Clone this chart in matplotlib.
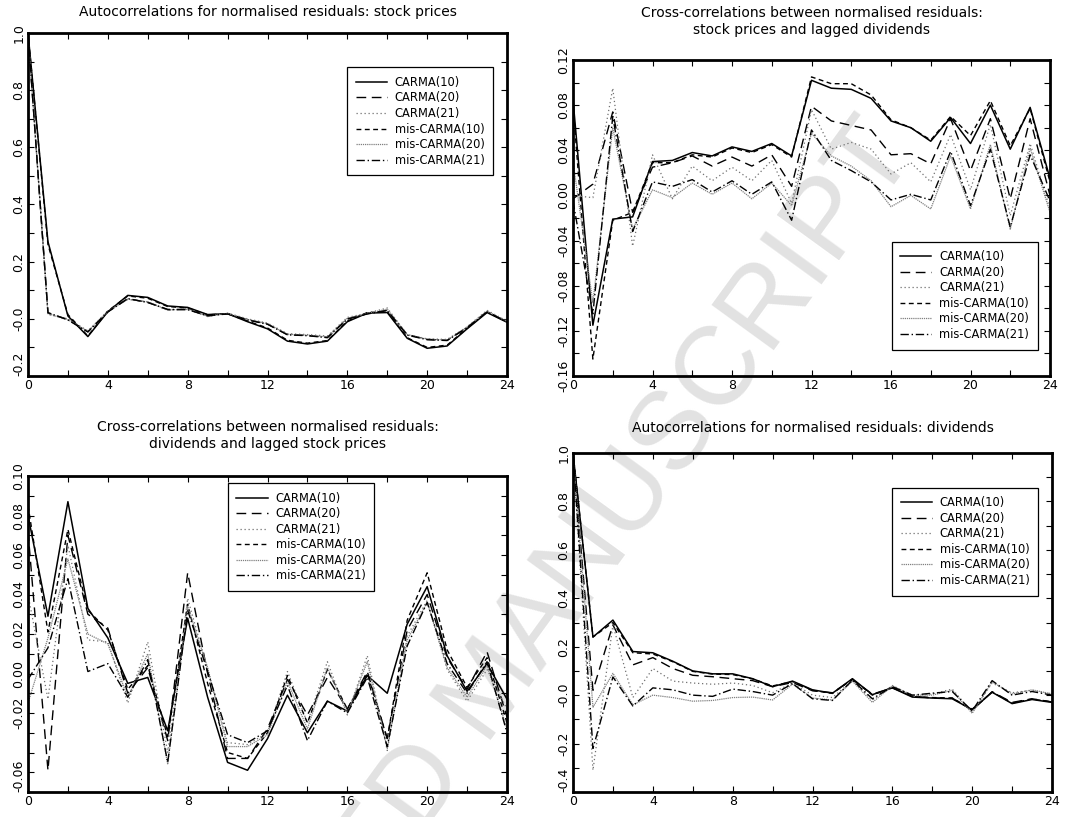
import numpy as np
from matplotlib import pyplot as plt
from matplotlib.ticker import MultipleLocator

plt.rcParams['font.family'] = ['DejaVu Sans']

# lags 0..24
lags = np.arange(25)
model_labels = ['CARMA(10)', 'CARMA(20)', 'CARMA(21)',
                'mis-CARMA(10)', 'mis-CARMA(20)', 'mis-CARMA(21)']

# autocorrelations, stock prices
acf_stock_carma10 = [1.0, 0.27, 0.01, -0.062, 0.025, 0.082, 0.075, 0.045, 0.04, 0.015, 0.018, -0.01, -0.035,
                     -0.078, -0.088, -0.078, -0.01, 0.02, 0.022, -0.068, -0.103, -0.095, -0.035, 0.022, -0.012]
acf_stock_carma20 = [1.0, 0.02, -0.002, -0.045, 0.025, 0.07, 0.058, 0.032, 0.033, 0.01, 0.018, -0.003, -0.018,
                     -0.055, -0.058, -0.065, 0.0, 0.018, 0.03, -0.055, -0.072, -0.075, -0.03, 0.025, -0.01]
acf_stock_carma21 = [1.0, 0.015, 0.0, -0.042, 0.028, 0.068, 0.06, 0.03, 0.035, 0.008, 0.02, 0.0, -0.015,
                     -0.052, -0.055, -0.06, 0.005, 0.02, 0.038, -0.055, -0.07, -0.072, -0.028, 0.03, -0.008]
acf_stock_mis10 = [1.0, 0.26, 0.015, -0.06, 0.027, 0.08, 0.072, 0.043, 0.038, 0.014, 0.018, -0.008, -0.032,
                   -0.075, -0.085, -0.076, -0.008, 0.022, 0.025, -0.066, -0.1, -0.092, -0.033, 0.024, -0.01]
acf_stock_mis20 = [1.0, 0.018, -0.003, -0.044, 0.026, 0.069, 0.059, 0.031, 0.034, 0.009, 0.019, -0.002, -0.017,
                   -0.054, -0.057, -0.063, 0.002, 0.019, 0.034, -0.056, -0.071, -0.074, -0.029, 0.027, -0.009]
acf_stock_mis21 = [1.0, 0.022, -0.004, -0.046, 0.024, 0.071, 0.057, 0.033, 0.032, 0.011, 0.017, -0.004, -0.019,
                   -0.056, -0.059, -0.066, -0.001, 0.017, 0.029, -0.057, -0.073, -0.076, -0.031, 0.024, -0.011]

# cross-correlations, stock prices and lagged dividends
ccf_sd_carma10 = [0.085, -0.115, -0.021, -0.019, 0.030, 0.031, 0.038, 0.035, 0.043, 0.039, 0.046, 0.035, 0.102,
                  0.095, 0.094, 0.086, 0.066, 0.060, 0.048, 0.069, 0.046, 0.080, 0.041, 0.078, 0.015]
ccf_sd_carma20 = [-0.003, 0.010, 0.074, -0.015, 0.025, 0.029, 0.035, 0.026, 0.034, 0.026, 0.036, 0.008, 0.079,
                  0.066, 0.062, 0.058, 0.036, 0.037, 0.028, 0.068, 0.022, 0.068, -0.003, 0.068, 0.0]
ccf_sd_carma21 = [0.0, -0.002, 0.095, -0.045, 0.036, -0.003, 0.026, 0.013, 0.025, 0.013, 0.031, -0.007, 0.076,
                  0.041, 0.047, 0.041, 0.019, 0.029, 0.012, 0.054, 0.005, 0.063, -0.018, 0.046, -0.012]
ccf_sd_mis10 = [0.080, -0.145, -0.022, -0.015, 0.029, 0.029, 0.036, 0.034, 0.042, 0.038, 0.045, 0.034, 0.105,
                0.099, 0.099, 0.089, 0.067, 0.060, 0.049, 0.070, 0.053, 0.084, 0.044, 0.077, 0.012]
ccf_sd_mis20 = [0.03, -0.095, 0.06, -0.03, 0.005, -0.002, 0.011, 0.001, 0.011, -0.003, 0.011, -0.009, 0.055,
                0.035, 0.026, 0.013, -0.01, 0.0, -0.012, 0.035, -0.012, 0.045, -0.03, 0.042, -0.015]
ccf_sd_mis21 = [-0.005, -0.105, 0.07, -0.032, 0.012, 0.008, 0.014, 0.003, 0.013, 0.001, 0.012, -0.022, 0.058,
                0.031, 0.022, 0.012, -0.004, 0.001, -0.004, 0.039, -0.009, 0.041, -0.028, 0.036, -0.005]

# cross-correlations, dividends and lagged stock prices
ccf_ds_carma10 = [0.080, 0.029, 0.087, 0.033, 0.018, -0.005, -0.002, -0.029, 0.028, -0.012, -0.045, -0.049, -0.033,
                  -0.011, -0.030, -0.014, -0.019, -0.001, -0.010, 0.025, 0.044, 0.009, -0.009, 0.005, -0.013]
ccf_ds_carma20 = [0.072, -0.049, 0.070, 0.030, 0.023, -0.010, 0.003, -0.034, 0.051, 0.0, -0.043, -0.043, -0.028,
                  -0.003, -0.021, -0.002, -0.018, 0.001, -0.033, 0.022, 0.040, 0.008, -0.008, 0.011, -0.022]
ccf_ds_carma21 = [0.040, -0.013, 0.065, 0.017, 0.016, -0.015, 0.016, -0.040, 0.038, 0.002, -0.035, -0.036, -0.030,
                  0.001, -0.025, 0.006, -0.021, 0.009, -0.039, 0.019, 0.037, 0.002, -0.014, 0.002, -0.018]
ccf_ds_mis10 = [0.085, 0.021, 0.073, 0.032, 0.022, -0.008, 0.004, -0.032, 0.035, -0.005, -0.040, -0.043, -0.030,
                -0.001, -0.025, 0.002, -0.018, 0.0, -0.033, 0.027, 0.051, 0.012, -0.007, 0.008, -0.025]
ccf_ds_mis20 = [-0.015, 0.018, 0.058, 0.020, 0.015, -0.012, 0.010, -0.046, 0.034, 0.003, -0.037, -0.037, -0.031,
                -0.004, -0.028, 0.003, -0.020, 0.006, -0.038, 0.017, 0.036, 0.003, -0.012, 0.004, -0.028]
ccf_ds_mis21 = [-0.003, 0.013, 0.048, 0.001, 0.005, -0.012, 0.007, -0.045, 0.032, 0.001, -0.031, -0.035, -0.029,
                -0.006, -0.034, -0.014, -0.020, -0.002, -0.037, 0.014, 0.036, 0.005, -0.010, 0.006, -0.030]

# autocorrelations, dividends
acf_div_carma10 = [1.0, 0.24, 0.31, 0.18, 0.175, 0.14, 0.10, 0.088, 0.088, 0.068, 0.035, 0.058, 0.022,
                   0.008, 0.068, 0.002, 0.03, -0.008, -0.012, -0.015, -0.06, 0.012, -0.035, -0.018, -0.03]
acf_div_carma20 = [1.0, 0.02, 0.29, 0.125, 0.155, 0.11, 0.082, 0.076, 0.068, 0.06, 0.035, 0.052, 0.018,
                   0.01, 0.064, 0.004, 0.03, -0.004, -0.012, -0.012, -0.062, 0.014, -0.03, -0.015, -0.028]
acf_div_carma21 = [1.0, -0.31, 0.29, -0.01, 0.11, 0.058, 0.05, 0.045, 0.05, 0.04, 0.01, 0.05, 0.0,
                   -0.01, 0.06, -0.02, 0.04, -0.002, 0.005, 0.025, -0.07, 0.05, 0.01, 0.02, 0.005]
acf_div_mis10 = [1.0, 0.24, 0.30, 0.175, 0.17, 0.138, 0.098, 0.087, 0.085, 0.067, 0.038, 0.056, 0.02,
                 0.007, 0.066, 0.0, 0.032, -0.006, -0.01, -0.012, -0.058, 0.013, -0.033, -0.016, -0.028]
acf_div_mis20 = [1.0, -0.05, 0.09, -0.04, 0.0, -0.01, -0.025, -0.022, -0.01, -0.008, -0.02, 0.045, -0.012,
                 -0.02, 0.058, -0.03, 0.038, 0.0, 0.0, 0.02, -0.075, 0.055, 0.005, 0.022, 0.005]
acf_div_mis21 = [1.0, -0.22, 0.075, -0.045, 0.03, 0.022, 0.0, -0.005, 0.025, 0.015, 0.0, 0.048, -0.015,
                 -0.022, 0.062, -0.015, 0.035, 0.0, 0.008, 0.015, -0.065, 0.06, 0.0, 0.015, 0.0]

line_styles = [
    dict(color='black', lw=1.1, ls='-'),
    dict(color='black', lw=1.0, ls=(0, (7, 4))),
    dict(color='#707070', lw=0.9, ls=(0, (1, 2.2))),
    dict(color='black', lw=1.0, ls=(0, (3.5, 2.5))),
    dict(color='#808080', lw=0.9, ls=(0, (1, 0.7))),
    dict(color='black', lw=1.0, ls=(0, (6, 2, 1, 2))),
]

W, H = 1081, 817
fig = plt.figure(figsize=(W / 100, H / 100), dpi=100)

# watermark behind everything
fig.text(492 / W, 1 - 690 / H, 'ACCEPTED MANUSCRIPT', fontsize=80, family='Liberation Sans',
         color='#e2e2e2', rotation=54, ha='center', va='center', rotation_mode='anchor', zorder=-5)


def make_axes(left, top, right, bottom):
    return fig.add_axes([left / W, 1 - bottom / H, (right - left) / W, (bottom - top) / H])


def draw_panel(ax, series, title, title_pad, ylim, ymajor, yminor, ylabels, legend_at, lift_bottom=True):
    ax.set_facecolor('none')
    for values, label, style in zip(series, model_labels, line_styles):
        ax.plot(lags, values, label=label, **style)
    ax.set_xlim(0, 24)
    ax.set_ylim(*ylim)
    ax.xaxis.set_major_locator(MultipleLocator(4))
    ax.xaxis.set_minor_locator(MultipleLocator(2))
    yticks = np.arange(ylim[0], ylim[1] + ymajor / 2, ymajor)
    ax.set_yticks(yticks)
    ax.yaxis.set_minor_locator(MultipleLocator(yminor))
    ax.set_yticklabels(ylabels, rotation=90, va='center')
    if lift_bottom:
        ax.get_yticklabels()[0].set_va('bottom')
    ax.tick_params(which='both', direction='in', length=4, width=0.8, top=True, right=True,
                   labelsize=9, pad=2)
    for sp in ax.spines.values():
        sp.set_linewidth(2.0)
    ax.set_title(title, fontsize=10, pad=title_pad, linespacing=1.25)
    leg = ax.legend(loc='upper left', bbox_to_anchor=legend_at, borderaxespad=0, fontsize=8.3,
                    handlelength=2.7, handletextpad=0.7, labelspacing=0.22, borderpad=0.75,
                    fancybox=False, framealpha=1, edgecolor='black')
    leg.get_frame().set_linewidth(0.9)


ax1 = make_axes(28, 33, 507, 376)
draw_panel(ax1, [acf_stock_carma10, acf_stock_carma20, acf_stock_carma21,
                 acf_stock_mis10, acf_stock_mis20, acf_stock_mis21],
           'Autocorrelations for normalised residuals: stock prices', 12,
           (-0.2, 1.0), 0.2, 0.1, ['-0.2', '-0.0', '0.2', '0.4', '0.6', '0.8', '1.0'], (0.666, 0.90))

ax2 = make_axes(573, 60, 1050, 376)
draw_panel(ax2, [ccf_sd_carma10, ccf_sd_carma20, ccf_sd_carma21,
                 ccf_sd_mis10, ccf_sd_mis20, ccf_sd_mis21],
           'Cross-correlations between normalised residuals:\nstock prices and lagged dividends', 19,
           (-0.16, 0.12), 0.04, 0.02,
           ['-0.16', '-0.12', '-0.08', '-0.04', '0.00', '0.04', '0.08', '0.12'], (0.668, 0.425),
           lift_bottom=False)

ax3 = make_axes(28, 476, 507, 792)
draw_panel(ax3, [ccf_ds_carma10, ccf_ds_carma20, ccf_ds_carma21,
                 ccf_ds_mis10, ccf_ds_mis20, ccf_ds_mis21],
           'Cross-correlations between normalised residuals:\ndividends and lagged stock prices', 20,
           (-0.06, 0.10), 0.02, 0.01,
           ['-0.06', '', '-0.02', '0.00', '0.02', '0.04', '0.06', '0.08', '0.10'], (0.417, 0.978))

ax4 = make_axes(573, 453, 1052, 792)
draw_panel(ax4, [acf_div_carma10, acf_div_carma20, acf_div_carma21,
                 acf_div_mis10, acf_div_mis20, acf_div_mis21],
           'Autocorrelations for normalised residuals: dividends', 15,
           (-0.4, 1.0), 0.2, 0.1,
           ['-0.4', '-0.2', '-0.0', '0.2', '0.4', '0.6', '0.8', '1.0'], (0.666, 0.898))

fig.savefig('out.png', dpi=100)
